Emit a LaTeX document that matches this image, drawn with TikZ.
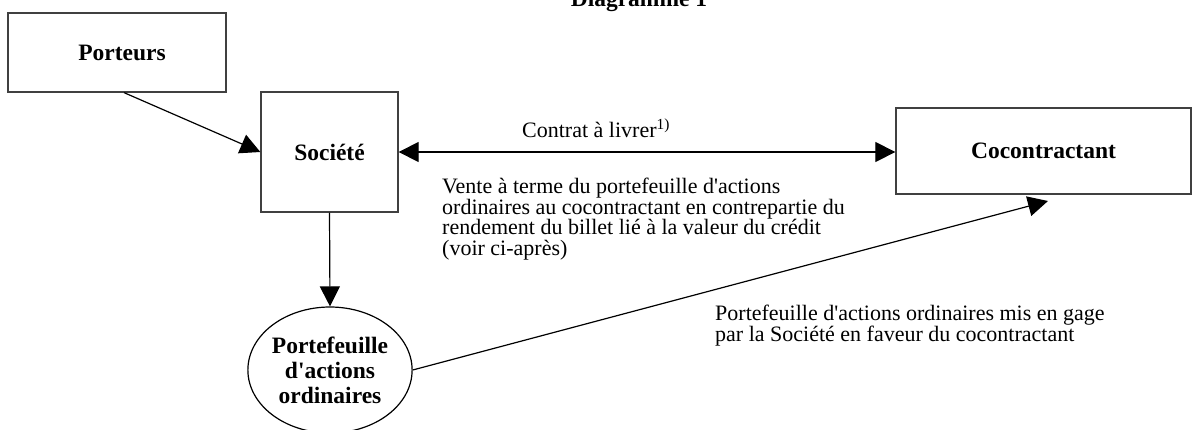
\documentclass[tikz,border=0pt]{standalone}
\usepackage{fontspec}
\setmainfont{Liberation Serif}[Ligatures=TeXOff]
\usetikzlibrary{arrows.meta,shapes.geometric}
\tikzset{
	boite/.style={draw=black!75,line width=1.3pt,rectangle,inner sep=0pt,font=\fontsize{23.5}{25}\selectfont\bfseries},
	fleche/.style={line width=1.2pt,-{Triangle[length=20pt,width=20pt]}},
	legende/.style={inner sep=0pt,align=left,font=\fontsize{22}{20.5}\selectfont}
}
\begin{document}
\begin{tikzpicture}[x=1pt,y=-1pt]
			\useasboundingbox (0,0) rectangle (1192,429);
			%\draw[red] (0,0) rectangle (1192,429);
			\node[anchor=base,inner sep=0pt,font=\fontsize{23.5}{25}\selectfont\bfseries] (titre) at (639,6) {Diagramme 1};
			\node[boite,minimum width=218pt,minimum height=79pt] (porteurs) at (117,52.5) {\hspace*{10pt}Porteurs};
			\node[boite,minimum width=137pt,minimum height=120pt] (societe) at (329.5,152) {Société};
			\node[boite,minimum width=295pt,minimum height=86pt] (cocontractant) at (1043.5,151) {Cocontractant};
			\node[draw,ellipse,line width=1.2pt,inner sep=0pt,minimum width=162pt,minimum height=126pt,align=center,font=\fontsize{23.5}{25}\selectfont\bfseries] (portefeuille) at (330,370) {Portefeuille\\d'actions\\ordinaires};
			\coordinate (gage) at (1048,201);
			\draw[fleche] (porteurs.-80) to (societe.west);
			\draw[fleche,{Triangle[length=20pt,width=20pt]}-{Triangle[length=20pt,width=20pt]}] (societe.east) to (societe.east -| cocontractant.west);
			\draw[fleche] (societe.south) to (portefeuille.north);
			\draw[fleche] (portefeuille.east) to (gage);
			\node[legende,anchor=west] (contrat) at (522,128) {Contrat à livrer\textsuperscript{1)}};
			\node[legende,anchor=north west] (vente) at (442,178) {Vente à terme du portefeuille d'actions\\ordinaires au cocontractant en contrepartie du\\rendement du billet lié à la valeur du crédit\\(voir ci-après)};
			\node[legende,anchor=north west] (nantissement) at (715,305) {Portefeuille d'actions ordinaires mis en gage\\par la Société en faveur du cocontractant};
		\end{tikzpicture}
\end{document}
